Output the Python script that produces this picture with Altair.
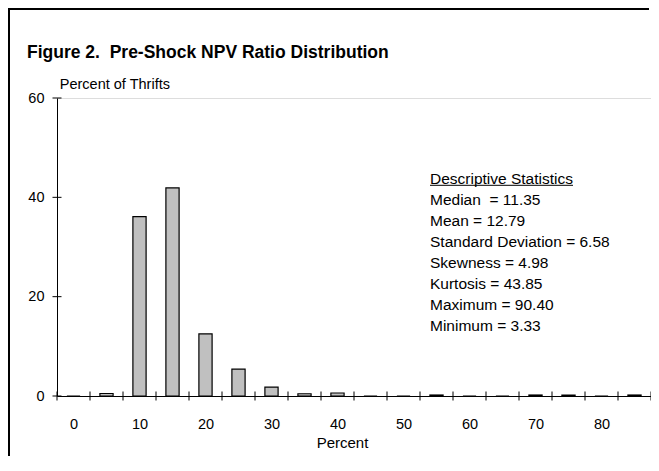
import altair as alt
import pandas as pd

# ---- data ----
categories = [0, 5, 10, 15, 20, 25, 30, 35, 40, 45, 50, 55, 60, 65, 70, 75, 80, 85]
percent_of_thrifts = [0.0, 0.5, 36.1, 41.9, 12.5, 5.4, 1.8, 0.45, 0.6, 0.0, 0.0, 0.2,
                      0.0, 0.0, 0.2, 0.2, 0.0, 0.2]
x_tick_labels = [0, 10, 20, 30, 40, 50, 60, 70, 80]
y_tick_values = [0, 20, 40, 60]
stats_lines = [
    "Descriptive Statistics",
    "Median\u00a0 = 11.35",
    "Mean = 12.79",
    "Standard Deviation = 6.58",
    "Skewness = 4.98",
    "Kurtosis = 43.85",
    "Maximum = 90.40",
    "Minimum = 3.33",
]
title_text = "Figure 2.\u00a0 Pre-Shock NPV Ratio Distribution"

FONT = "Liberation Sans"
W, H = 594, 298

bars_df = pd.DataFrame({"bin": categories, "share": percent_of_thrifts})
bounds_df = pd.DataFrame({"b": [c - 2.5 for c in categories] + [categories[-1] + 2.5]})
yt_df = pd.DataFrame({"t": y_tick_values})
one = pd.DataFrame({"k": [0]})

xscale = alt.Scale(domain=[-2.5, 87.5], nice=False, zero=False)
yscale = alt.Scale(domain=[0, 60], nice=False, zero=True)

x_axis = alt.Axis(
    values=x_tick_labels, format="d", ticks=False, tickSize=0, grid=False,
    domain=True, domainColor="#000000", domainWidth=1,
    labelFont=FONT, labelFontSize=14.5, labelColor="#000000",
    labelBaseline="middle", labelPadding=28, labelFlush=False,
    title="Percent", titleFont=FONT, titleFontSize=15, titleFontWeight="normal",
    titleColor="#000000", titleX=285, titleY=51.5, titleAlign="center",
    titleBaseline="alphabetic",
)
y_axis = alt.Axis(
    values=y_tick_values, ticks=False, tickSize=0, grid=False,
    domain=True, domainColor="#000000", domainWidth=1,
    labelFont=FONT, labelFontSize=14.5, labelColor="#000000",
    labelBaseline="middle", labelPadding=13, labelFlush=False,
    title="Percent of Thrifts", titleFont=FONT, titleFontSize=14.5,
    titleFontWeight="normal", titleColor="#000000", titleAngle=0,
    titleX=2.3, titleY=-9.5, titleAlign="left", titleBaseline="alphabetic",
)

bars = (
    alt.Chart(bars_df)
    .transform_calculate(lo="datum.bin - 1", hi="datum.bin + 1")
    .mark_bar(fill="#C0C0C0", stroke="#000000", strokeWidth=1.2)
    .encode(
        x=alt.X("lo:Q", scale=xscale, axis=x_axis),
        x2="hi:Q",
        y=alt.Y("share:Q", scale=yscale, axis=y_axis),
        y2=alt.datum(0),
    )
)

x_ticks = alt.Chart(bounds_df).mark_rule(color="#000000", strokeWidth=1).encode(
    x=alt.X("b:Q", scale=xscale, axis=x_axis),
    y=alt.value(H - 4.5),
    y2=alt.value(H + 4.5),
)

y_ticks = alt.Chart(yt_df).mark_rule(color="#000000", strokeWidth=1).encode(
    y=alt.Y("t:Q", scale=yscale, axis=y_axis),
    x=alt.value(-4.5),
    x2=alt.value(4.5),
)

title = alt.Chart(one).mark_text(
    font=FONT, fontSize=17.5, fontWeight="bold", align="left", baseline="alphabetic",
    color="#000000",
).encode(x=alt.value(-30), y=alt.value(-39.7), text=alt.value(title_text))

stats = alt.Chart(one).mark_text(
    font=FONT, fontSize=15.5, align="left", baseline="alphabetic", color="#000000",
    lineBreak="\n", lineHeight=21.1,
).encode(x=alt.value(373), y=alt.value(85.6), text=alt.value("\n".join(stats_lines)))

underline = alt.Chart(one).mark_rule(color="#000000", strokeWidth=1).encode(
    x=alt.value(373), x2=alt.value(516), y=alt.value(87.3)
)

frame_top = alt.Chart(one).mark_rule(color="#000000", strokeWidth=2).encode(
    x=alt.value(-49), x2=alt.value(W - 2), y=alt.value(-89)
)
frame_left = alt.Chart(one).mark_rule(color="#000000", strokeWidth=2).encode(
    x=alt.value(-48), y=alt.value(-90), y2=alt.value(H + 60)
)

chart = (
    alt.layer(bars, x_ticks, y_ticks, title, stats, underline, frame_top, frame_left)
    .properties(
        width=W, height=H,
        padding={"left": 49, "top": 90, "right": 0, "bottom": 60},
        autosize=alt.AutoSizeParams(type="none"),
        background="#ffffff",
    )
    .configure_view(strokeWidth=0, stroke="transparent")
    .configure(font=FONT)
)

chart.save("out.html", embed_options={"renderer": "svg", "actions": False})
